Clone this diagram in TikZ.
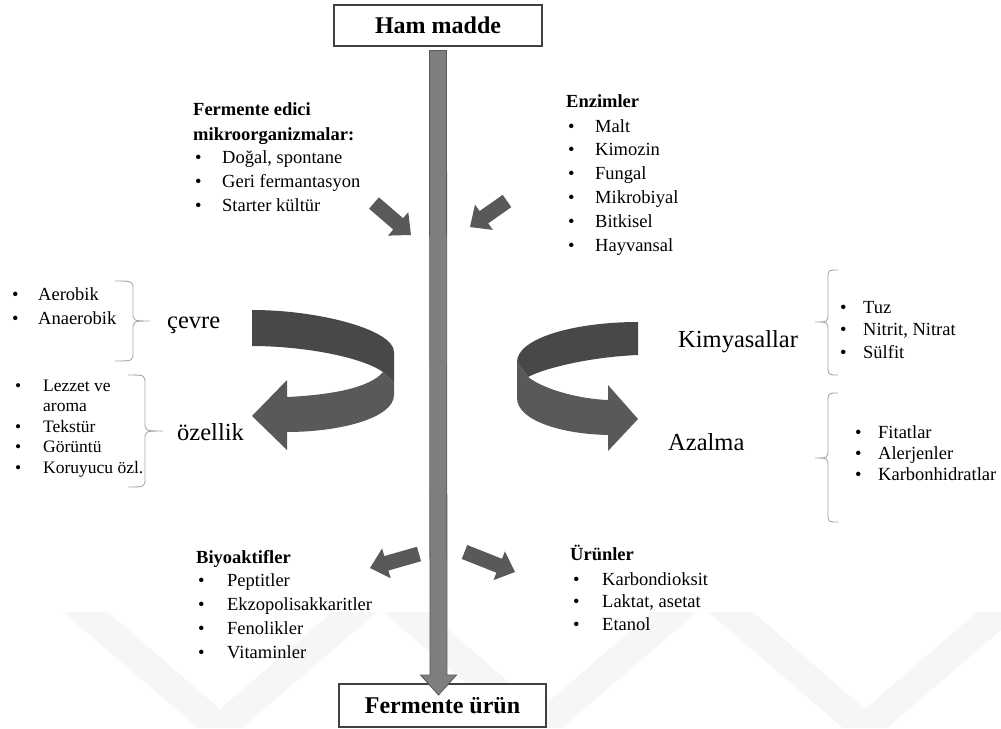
\documentclass[tikz,border=0pt]{standalone}
\usepackage{fontspec}
\setmainfont{Liberation Serif}
\usetikzlibrary{calc}
\definecolor{shaftgray}{HTML}{7F7F7F}
\definecolor{arrowgray}{HTML}{595959}
\definecolor{backgray}{HTML}{484848}
\definecolor{bracegray}{HTML}{A6A6A6}
\definecolor{markgray}{HTML}{F6F6F6}
\newcommand{\itm}[2]{\makebox[#1][l]{\textbullet}#2}
% block arrow: style, tail, tip, half shaft, half head, head length
\newcommand{\blockarrow}[6]{%
  \coordinate (hb) at ($(#3)!#6!(#2)$);
  \fill[#1] ($(#2)!#4!90:(#3)$) -- ($(hb)!#4!90:(#3)$) -- ($(hb)!#5!90:(#3)$) -- (#3)
    -- ($(hb)!#5!-90:(#3)$) -- ($(hb)!#4!-90:(#3)$) -- ($(#2)!#4!-90:(#3)$) -- cycle;}
% brace: x end, x line, x tip, y top, y mid, y bottom
\newcommand{\BraceAt}[6]{%
  \draw[brc] (#1,#4) .. controls (#2,#4) .. (#2,#4+9) -- (#2,#5-9)
    .. controls (#2,#5) .. (#3,#5) .. controls (#2,#5) .. (#2,#5+9)
    -- (#2,#6-9) .. controls (#2,#6) .. (#1,#6);}

\begin{document}
\begin{tikzpicture}[x=1pt,y=-1pt,
  box/.style={draw=black!75, line width=1.2pt, fill=white, minimum width=208pt,
    minimum height=41pt, inner sep=0pt, font=\bfseries\fontsize{24}{28}\selectfont},
  head/.style={anchor=base west, inner sep=0pt, font=\bfseries\fontsize{18.5}{22}\selectfont},
  item/.style={anchor=base west, inner sep=0pt, font=\fontsize{18.5}{22}\selectfont},
  smallitem/.style={item, font=\fontsize{17.5}{21}\selectfont},
  big/.style={anchor=base west, inner sep=0pt, font=\fontsize{24.5}{28}\selectfont},
  brc/.style={draw=bracegray, line width=0.9pt},
  blk/.style={fill=arrowgray},
  shaft/.style={fill=shaftgray, draw=arrowgray, line width=0.8pt}]
\useasboundingbox (0,0) rectangle (1001,728);

% watermark
\foreach \v in {220,540,865}
  \fill[markgray] (\v-157,612) -- (\v-112,612) -- (\v+22,728) -- (\v-22,728) -- cycle
    (\v+112,612) -- (\v+157,612) -- (\v+22,728) -- (\v-22,728) -- cycle;

% main flow
\node[box] (ham) at (438,25.5) {Ham madde};
\node[box, minimum width=207pt, minimum height=43pt] (ferm) at (442.5,705.5) {Fermente ürün};
\coordinate (mtail) at ([yshift=-4pt]ham.south);
\coordinate (mtip) at (438.5,695);
\blockarrow{shaft}{mtail}{mtip}{8.5pt}{18pt}{20pt}

% small arrows
\coordinate (fm-s) at (374,203);
\coordinate (fm-e) at (411,235);
\coordinate (ez-s) at (507,201);
\coordinate (ez-e) at (470,227);
\coordinate (by-s) at (419,554);
\coordinate (by-e) at (370,568);
\coordinate (ur-s) at (464.5,552);
\coordinate (ur-e) at (515,572);
\blockarrow{blk}{fm-s}{fm-e}{7.5pt}{15.5pt}{17pt}
\blockarrow{blk}{ez-s}{ez-e}{7.5pt}{15.5pt}{17pt}
\blockarrow{blk}{by-s}{by-e}{7.5pt}{15.5pt}{17pt}
\blockarrow{blk}{ur-s}{ur-e}{7.5pt}{15.5pt}{17pt}

% left turning arrow
\fill[backgray] (252,310) .. controls (320,310) and (394,330) .. (394,352) -- (394,383)
  -- (383,372) .. controls (360,356) and (300,346) .. (252,346) -- cycle;
\fill[arrowgray] (383,372) -- (394,383) -- (394,395) .. controls (394,418) and (340,432) .. (287,432)
  -- (287,450) -- (252,416) -- (287,380) -- (287,397)
  .. controls (330,395) and (370,388) .. (383,372) -- cycle;

% right turning arrow
\fill[backgray] (638,322) .. controls (575,322) and (517,338) .. (517,362) -- (528,377)
  .. controls (545,368) and (590,357) .. (638,355) -- cycle;
\fill[arrowgray] (517,362) -- (528,377) .. controls (545,390) and (580,399) .. (608,400)
  -- (608,385) -- (638,419) -- (608,451) -- (608,435)
  .. controls (560,434) and (517,420) .. (517,398) -- cycle;

% labels of the turning arrows
\node[big] (cevre) at (167,328) {çevre};
\node[big] (ozellik) at (177,440) {özellik};
\node[big] (kimya) at (678,347) {Kimyasallar};
\node[big] (azalma) at (668,450) {Azalma};

% braces
\BraceAt{115}{133}{150}{281}{321}{361}
\BraceAt{128}{145}{163}{375}{431}{487}
\BraceAt{838}{828}{815}{270}{322}{375}
\BraceAt{838}{828}{815}{393}{458}{522}

% lists
\node[head] (fm-h1) at (193,115) {Fermente edici};
\node[head] (fm-h2) at (193,140) {mikroorganizmalar:};
\foreach \t [count=\i] in {{Doğal, spontane},Geri fermantasyon,Starter kültür}
  \node[item] (fm-\i) at (195,{163+24*(\i-1)}) {\itm{27pt}{\t}};

\node[head] (ez-h) at (566,107) {Enzimler};
\foreach \t [count=\i] in {Malt,Kimozin,Fungal,Mikrobiyal,Bitkisel,Hayvansal}
  \node[item] (ez-\i) at (568,{132+23.8*(\i-1)}) {\itm{27pt}{\t}};

\foreach \t [count=\i] in {Aerobik,Anaerobik}
  \node[item] (cv-\i) at (12,{300+24*(\i-1)}) {\itm{26pt}{\t}};

\node[smallitem] (oz-1) at (15,391) {\itm{28pt}{Lezzet ve}};
\node[smallitem] (oz-1b) at (43,411.5) {aroma};
\foreach \t [count=\i from 2] in {Tekstür,Görüntü,Koruyucu özl.}
  \node[smallitem] (oz-\i) at (15,{432+20.5*(\i-2)}) {\itm{28pt}{\t}};

\foreach \t [count=\i] in {Tuz,{Nitrit, Nitrat},Sülfit}
  \node[item] (km-\i) at (840,{313+22.5*(\i-1)}) {\itm{23pt}{\t}};

\foreach \t [count=\i] in {Fitatlar,Alerjenler,Karbonhidratlar}
  \node[item] (az-\i) at (855,{438+21*(\i-1)}) {\itm{23pt}{\t}};

\node[head] (by-h) at (196,563) {Biyoaktifler};
\foreach \t [count=\i] in {Peptitler,Ekzopolisakkaritler,Fenolikler,Vitaminler}
  \node[item] (by-\i) at (198,{586+24*(\i-1)}) {\itm{29pt}{\t}};

\node[head] (ur-h) at (570,560) {Ürünler};
\foreach \t [count=\i] in {Karbondioksit,{Laktat, asetat},Etanol}
  \node[item] (ur-\i) at (573,{585+22.5*(\i-1)}) {\itm{29pt}{\t}};
\end{tikzpicture}
\end{document}
